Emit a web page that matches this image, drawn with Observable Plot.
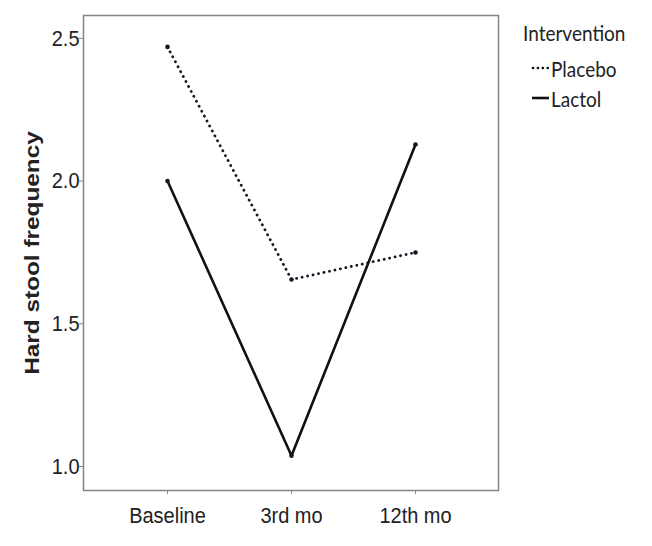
<!DOCTYPE html>
<html>
<head>
<meta charset="utf-8">
<script src="https://cdn.jsdelivr.net/npm/d3@7"></script>
<script src="https://cdn.jsdelivr.net/npm/@observablehq/plot@0.6"></script>
<style>
  body { margin: 0; background: #fff; }
  #wrap { position: relative; width: 652px; height: 546px; }
  #legend { position: absolute; left: 523px; top: 19px; font-family: Lato, "Liberation Sans", sans-serif; font-size: 19px; color: #222; }
  #legend .row { display: flex; align-items: center; height: 30px; }
  #legend .title { height: 27px; margin-bottom: 7px; }
  #legend svg { display: block; margin-left: 8px; margin-right: 1px; }
  #legend span { display: inline-block; transform: scaleY(1.1); }
</style>
</head>
<body>
<div id="wrap">
  <div id="chart"></div>
  <div id="legend"></div>
</div>
<script>
const periods = ["Baseline", "3rd mo", "12th mo"];
const groups = ["Placebo", "Lactol"];
const placebo = [2.47, 1.655, 1.75];
const lactol = [2.0, 1.038, 2.128];
const yTicks = [1.0, 1.5, 2.0, 2.5];
const legendTitle = "Intervention";
const yLabel = "Hard stool frequency";

const data = periods.flatMap((p, i) => [
  {period: p, group: "Placebo", value: placebo[i]},
  {period: p, group: "Lactol", value: lactol[i]}
]);
const dashes = {Placebo: "0.1,5.5", Lactol: null};
const font = "'Liberation Sans', Arial, sans-serif";

const chart = Plot.plot({
  width: 652,
  height: 546,
  marginLeft: 83,
  marginRight: 154,
  marginTop: 15,
  marginBottom: 56,
  style: {fontFamily: font, fontSize: "20px", color: "#222", background: "#fff"},
  x: {type: "point", domain: periods, padding: 0.67, label: null},
  y: {domain: [0.916, 2.58], label: null},
  marks: [
    Plot.frame({stroke: "#858585", strokeWidth: 1.5}),
    Plot.axisX({tickSize: 4, tickPadding: 13, stroke: "#858585", fill: "#222", fontSize: 20, fontFamily: font, label: null, className: "tx"}),
    Plot.axisY({ticks: yTicks, tickSize: 4, tickPadding: 0, tickFormat: d3.format(".1f"), stroke: "#858585", fill: "#222", fontSize: 20, fontFamily: font, label: null, className: "ty"}),
    Plot.text([yLabel], {frameAnchor: "left", textAnchor: "middle", dx: -51, rotate: -90, fontWeight: "bold", fontSize: 21, fontFamily: font, fill: "#222", className: "ylab"}),
    Plot.line(data.filter(d => d.group === "Placebo"), {x: "period", y: "value", stroke: "#151525", strokeWidth: 2.8, strokeDasharray: dashes.Placebo, strokeLinecap: "round"}),
    Plot.line(data.filter(d => d.group === "Lactol"), {x: "period", y: "value", stroke: "#111", strokeWidth: 2.6}),
    Plot.dot(data, {x: "period", y: "value", r: 2.3, fill: "#151525"})
  ]
});
document.getElementById("chart").appendChild(chart);

// the reference's text is slightly stretched vertically
d3.select(chart).selectAll("g[aria-label='x-axis tick label'] text, g[aria-label='y-axis tick label'] text")
  .attr("transform", function() { return (this.getAttribute("transform") || "") + " scale(1,1.12)"; });
d3.select(chart).selectAll(".ylab text")
  .attr("transform", function() { return (this.getAttribute("transform") || "") + " scale(1.16,1)"; });

const legend = d3.select("#legend");
legend.append("div").attr("class", "row title").append("span").text(legendTitle);
for (const g of groups) {
  const row = legend.append("div").attr("class", "row");
  const s = row.append("svg").attr("width", 19).attr("height", 10);
  s.append("line").attr("x1", dashes[g] ? 2 : 1).attr("x2", 18).attr("y1", 5).attr("y2", 5)
    .attr("stroke", "#111").attr("stroke-width", 2.6)
    .attr("stroke-dasharray", dashes[g] ? "0.1,4.8" : null).attr("stroke-linecap", dashes[g] ? "round" : "butt");
  row.append("span").text(g);
}
</script>
</body>
</html>
